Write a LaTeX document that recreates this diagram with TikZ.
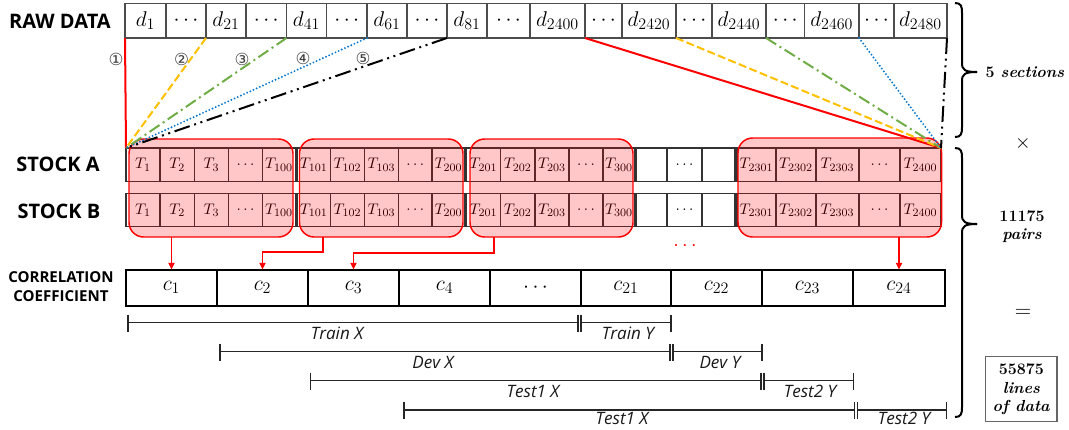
\RequirePackage{fix-cm}
\documentclass[tikz,border=0pt]{standalone}
\usepackage{fontspec}
\newfontfamily\labfont{Open Sans}
\newfontfamily\dvfont{DejaVu Sans}
\usetikzlibrary{arrows.meta,calc}
\DeclareMathSizes{16}{16}{12}{9}
\DeclareMathSizes{11.5}{11.5}{8.5}{7}
\definecolor{oorange}{RGB}{255,192,0}
\definecolor{ogreen}{RGB}{112,173,71}
\definecolor{oblue}{RGB}{10,120,205}
\newcommand{\cellnode}[7]{\node[#1, minimum width={(#4-#3)*0.75pt}, minimum height={(#6-#5)*0.75pt}] (#2) at ({(#3+#4)/2},{(#5+#6)/2}) {#7};}
\newcommand{\mybrace}[3]{%
 \draw[bracel] (955,#1) .. controls (961,#1) and (962,#1+3) .. (962,#1+10) -- (962,#3-9) .. controls (962,#3-2) and (965,#3) .. (977,#3);
 \draw[bracel] (977,#3) .. controls (965,#3) and (962,#3+2) .. (962,#3+9) -- (962,#2-10) .. controls (962,#2-3) and (961,#2) .. (955,#2);}
\begin{document}
\begin{tikzpicture}[x=0.75pt,y=-0.75pt,
 rawcell/.style={draw=black!70, line width=0.8pt, inner sep=0pt, outer sep=0pt, fill=white, font=\fontsize{16}{16}\selectfont},
 tcell/.style={draw=black!80, line width=0.8pt, inner sep=0pt, outer sep=0pt, fill=white, font=\fontsize{11.5}{11.5}\selectfont},
 ccell/.style={draw=black, line width=1.6pt, inner sep=0pt, outer sep=0pt, fill=white, font=\fontsize{16}{16}\selectfont},
 hl/.style={draw=red, line width=1.1pt, fill=red, fill opacity=0.22, rounded corners=11pt, inner sep=0pt, outer sep=0pt},
 rowlabel/.style={font=\labfont\bfseries\fontsize{15}{18}\selectfont, align=center},
 corrlabel/.style={font=\labfont\bfseries\fontsize{11.3}{14.25}\selectfont, align=center},
 lred/.style={red, line width=1.5pt},
 lorange/.style={color=oorange, line width=1.5pt, dash pattern=on 6pt off 2.5pt},
 lgreen/.style={color=ogreen, line width=1.5pt, dash pattern=on 9pt off 3pt on 1.5pt off 3pt},
 lblue/.style={color=oblue, line width=1.6pt, line cap=round, dash pattern=on 0pt off 2.6pt},
 lblack/.style={black, line width=1.5pt, dash pattern=on 12pt off 3.5pt on 1.5pt off 3.5pt on 1.5pt off 3.5pt},
 rarrow/.style={red, line width=1.3pt, -{Triangle[length=5pt,width=4.5pt]}},
 ival/.style={black!85, line width=1.05pt},
 ivlabel/.style={font=\labfont\itshape\fontsize{12.8}{12.8}\selectfont, text=black!90},
 bracel/.style={black, line width=1.5pt},
 rtext/.style={font=\bfseries\fontsize{12}{14}\selectfont, align=center},
 circ/.style={font=\dvfont\fontsize{12.5}{12.5}\selectfont, text=black!75}
]
\useasboundingbox (0,0) rectangle (1069,429);

% left labels
\node[rowlabel] (lraw) at (60,21) {RAW DATA};
\node[rowlabel] (lsa) at (58,164.5) {STOCK A};
\node[rowlabel] (lsb) at (59,211) {STOCK B};
\node[corrlabel] (lcorr) at (61,287) {CORRELATION\\COEFFICIENT};

% raw data row
\foreach \n/\xa/\xb/\t in {1/125/166/d_{1}, 2/166/206/\cdots, 3/206/246/d_{21}, 4/246/286.5/\cdots,
  5/286.5/326.5/d_{41}, 6/326.5/367/\cdots, 7/367/407/d_{61}, 8/407/447/\cdots, 9/447/487/d_{81},
  10/487/530/\cdots, 11/530/585/d_{2400}, 12/585/622/\cdots, 13/622/676/d_{2420}, 14/676/712/\cdots,
  15/712/766/d_{2440}, 16/766/804.5/\cdots, 17/804.5/859/d_{2460}, 18/859/894/\cdots, 19/894/947/d_{2480}}
 {\cellnode{rawcell}{r\n}{\xa}{\xb}{3.5}{38}{$\t$}}

% stock rows
\foreach \row/\ya/\yb in {a/148/181.5, b/193.5/226.5}{
 \foreach \n/\xa/\xb/\t in {1/126/160/T_{1}, 2/160/194.5/T_{2}, 3/194.5/228.5/T_{3}, 4/228.5/262.5/\cdots, 5/262.5/295.5/T_{100},
  6/297/330.5/T_{101}, 7/330.5/364.5/T_{102}, 8/364.5/398.5/T_{103}, 9/398.5/432/\cdots, 10/432/465/T_{200},
  11/466.5/500.5/T_{201}, 12/500.5/535/T_{202}, 13/535/569/T_{203}, 14/569/603/\cdots, 15/603/635/T_{300},
  16/636.5/667/{}, 17/667/702/\cdots, 18/702/735/{},
  19/737/776/T_{2301}, 20/776/816/T_{2302}, 21/816/859/T_{2303}, 22/859/900/\cdots, 23/900/941/T_{2400}}
 {\cellnode{tcell}{\row\n}{\xa}{\xb}{\ya}{\yb}{$\t$}}
}

% highlight groups
\cellnode{hl}{h1}{129}{293}{139}{237}{}
\cellnode{hl}{h2}{299.5}{463}{139}{237}{}
\cellnode{hl}{h3}{470}{633}{139}{237}{}
\cellnode{hl}{h4}{738}{941.5}{138}{237}{}

% section lines
\draw[lred] (r1.south west) -- (a1.north west);
\draw[lorange] (r3.south west) -- (a1.north west);
\draw[lgreen] (r5.south west) -- (a1.north west);
\draw[lblue] (r7.south west) -- (a1.north west);
\draw[lblack] (r9.south west) -- (a1.north west);
\draw[lred] (r11.south east) -- (a23.north east);
\draw[lorange] (r13.south east) -- (a23.north east);
\draw[lgreen] (r15.south east) -- (a23.north east);
\draw[lblue] (r17.south east) -- (a23.north east);
\draw[lblack] (r19.south east) -- (a23.north east);

\node[circ] (n1) at (116,59) {①};
\node[circ] (n2) at (181.5,59) {②};
\node[circ] (n3) at (242,59) {③};
\node[circ] (n4) at (303,58) {④};
\node[circ] (n5) at (363,58) {⑤};

% correlation row
\foreach \n/\xa/\xb/\t in {1/126/217/c_{1}, 2/217/308/c_{2}, 3/308/399/c_{3}, 4/399/490/c_{4}, 5/490/581/\cdots,
  6/581/671/c_{21}, 7/671/762/c_{22}, 8/762/853/c_{23}, 9/853/945/c_{24}}
 {\cellnode{ccell}{c\n}{\xa}{\xb}{269.6}{305.8}{$\t$}}

% arrows
\draw[rarrow] (c1.north |- h1.south) -- (c1.north);
\draw[rarrow] ([xshift=17.6pt]h2.south west) -- ++(0,14.7) -| (c2.north);
\draw[rarrow] ([xshift=18.2pt]h3.south west) -- ++(0,15.7) -| (c3.north);
\draw[rarrow] (c9.north |- h4.south) -- (c9.north);
\node[text=red, font=\fontsize{15}{15}\selectfont] (rdots) at (685,246) {$\cdots$};

% intervals
\draw[ival] (128,314.5)--(128,331.5) (128,322.5)--(578,322.5) (578,314.5)--(578,331.5);
\draw[ival] (581,314.5)--(581,331.5) (581,322.5)--(671,322.5) (671,314.5)--(671,331.5);
\node[ivlabel] (trx) at (337,333.5) {Train X};
\node[ivlabel] (try) at (628,333.5) {Train Y};

\draw[ival] (220,343.5)--(220,360.5) (220,351.5)--(670,351.5) (670,343.5)--(670,360.5);
\draw[ival] (673,343.5)--(673,360.5) (673,351.5)--(762,351.5) (762,343.5)--(762,360.5);
\node[ivlabel] (dvx) at (433,362.5) {Dev X};
\node[ivlabel] (dvy) at (720,362.5) {Dev Y};

\draw[ival] (310.5,372.5)--(310.5,389.5) (310.5,380.5)--(761,380.5) (761,372.5)--(761,389.5);
\draw[ival] (764,372.5)--(764,389.5) (764,380.5)--(853.5,380.5) (853.5,372.5)--(853.5,389.5);
\node[ivlabel] (tax) at (533,391.5) {Test1 X};
\node[ivlabel] (tay) at (810,391.5) {Test2 Y};

\draw[ival] (404,402)--(404,419) (404,410)--(854.5,410) (854.5,402)--(854.5,419);
\draw[ival] (857.5,402)--(857.5,419) (857.5,410)--(946.5,410) (946.5,402)--(946.5,419);
\node[ivlabel] (tbx) at (622,418.5) {Test1 X};
\node[ivlabel] (tby) at (904,418.5) {Test2 Y};

% braces and right side
\mybrace{3}{137}{72}
\mybrace{148}{417}{224}
\node[rtext, anchor=west] (sec) at (981,72) {5 \textit{sections}};
\node[font=\fontsize{15}{15}\selectfont] (times) at (1023,143) {$\times$};
\node[rtext] (pairs) at (1022,226.5) {11175\\\textit{pairs}};
\node[font=\fontsize{17}{17}\selectfont] (eq) at (1023,313) {$=$};
\cellnode{rtext, draw=black!60, line width=0.8pt, inner sep=0pt}{tot}{985.7}{1057}{356.7}{421.7}{55875\\\textit{lines}\\\textit{of data}}
\end{tikzpicture}
\end{document}
